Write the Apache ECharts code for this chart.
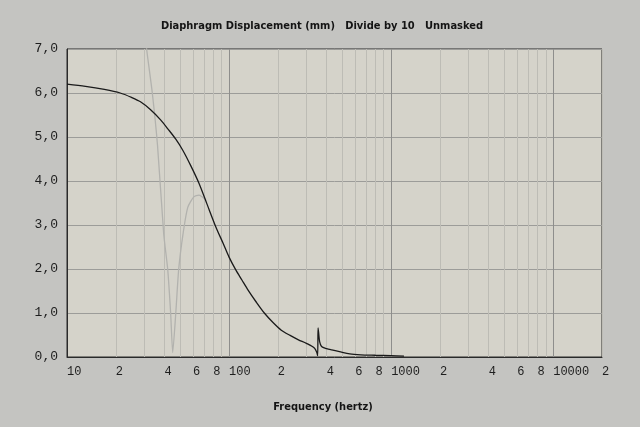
<!DOCTYPE html>
<html>
<head>
<meta charset="utf-8">
<script src="https://cdn.jsdelivr.net/npm/echarts@6/dist/echarts.min.js"></script>
<style>
html,body{margin:0;padding:0;background:#c4c4c1;}
#chart{width:640px;height:427px;}
</style>
</head>
<body>
<div id="chart"></div>
<script>
// Frequency (Hz) / displacement (mm) pairs
const blackFreq = [10,13,17,21.3,25,28.4,32.8,37.8,42,46.9,51.8,58,65.2,73,83,92,100,110,120,131,147,165,186,210,238,268,300,337,348,352,354,357,362,372,400,430,480,556,650,800,1000,1200];
const blackVal  = [6.20,6.15,6.08,6.00,5.90,5.80,5.62,5.39,5.18,4.95,4.70,4.35,3.95,3.48,2.95,2.58,2.27,1.98,1.75,1.52,1.25,1.00,0.79,0.61,0.49,0.39,0.31,0.20,0.10,0.03,0.66,0.55,0.35,0.24,0.19,0.16,0.12,0.07,0.05,0.04,0.03,0.02];
const grayFreq = [28,31,33.6,36.2,39.5,41.8,43.6,44.9,46.9,48.9,52,55.6,60.6,65.2,72];
const grayVal  = [8.6,7.0,6.0,4.8,2.8,2.0,1.0,0.1,1.0,2.0,2.8,3.4,3.64,3.68,3.57];

const xTickValues = [10,20,40,60,80,100,200,400,600,800,1000,2000,4000,6000,8000,10000,20000];
const xTickLabels = ['10','2','4','6','8','100','2','4','6','8','1000','2','4','6','8','10000','2'];
const xGridValues = [10,20,30,40,50,60,70,80,90,100,200,300,400,500,600,700,800,900,1000,2000,3000,4000,5000,6000,7000,8000,9000,10000,20000];
const yMin = 0, yMax = 7, yStep = 1;

const pairs = (xs, ys) => xs.map((x, i) => [x, ys[i]]);
const sansFont = "'DejaVu Sans Condensed', 'Liberation Sans', sans-serif";

const chart = echarts.init(document.getElementById('chart'), null, {renderer: 'canvas'});
chart.setOption({
  backgroundColor: '#c4c4c1',
  animation: false,
  title: [
    {
      text: 'Diaphragm Displacement (mm)   Divide by 10   Unmasked',
      left: 317, top: 16, textAlign: 'center',
      textStyle: {fontFamily: sansFont, fontSize: 11, fontWeight: 'bold', color: '#141414'}
    },
    {
      text: 'Frequency (hertz)',
      left: 318, top: 397, textAlign: 'center',
      textStyle: {fontFamily: sansFont, fontSize: 11, fontWeight: 'bold', color: '#141414'}
    }
  ],
  grid: {
    left: 67, right: 38, top: 49, bottom: 70,
    show: true, backgroundColor: '#d5d3ca', borderColor: '#2a2a2a', borderWidth: 1
  },
  xAxis: {
    type: 'log', logBase: 10, min: 10, max: 20000,
    axisLine: {show: true, lineStyle: {color: '#2a2a2a', width: 1}},
    axisTick: {show: false, customValues: xGridValues},
    axisLabel: {
      customValues: xTickValues,
      formatter: v => { const i = xTickValues.findIndex(t => Math.abs(t - v) < 1e-6 * t); return i >= 0 ? xTickLabels[i] : ''; },
      align: 'left', margin: 9,
      fontFamily: 'Liberation Mono', fontSize: 12, color: '#1e1e1e'
    },
    splitLine: {show: true, lineStyle: {color: ['#8e8e8c','#bdbcb5','#bdbcb5','#bdbcb5','#bdbcb5','#bdbcb5','#bdbcb5','#bdbcb5','#bdbcb5'], width: 1}}
  },
  yAxis: {
    type: 'value', min: yMin, max: yMax, interval: yStep,
    axisLine: {show: true, lineStyle: {color: '#2a2a2a', width: 1}},
    axisTick: {show: false},
    axisLabel: {
      formatter: v => v.toFixed(1).replace('.', ','),
      margin: 9, fontFamily: 'Liberation Mono', fontSize: 13, color: '#1e1e1e'
    },
    splitLine: {show: true, lineStyle: {color: '#9c9c99', width: 1}}
  },
  series: [
    {
      type: 'line', data: pairs(grayFreq, grayVal), showSymbol: false, symbol: 'none',
      smooth: 0.2,
      lineStyle: {color: '#b2b2ae', width: 1.3}, clip: true, z: 2
    },
    {
      type: 'line', data: pairs(blackFreq, blackVal), showSymbol: false, symbol: 'none',
      smooth: 0.3,
      lineStyle: {color: '#1a1a1a', width: 1.3}, clip: true, z: 3
    }
  ]
});
</script>
</body>
</html>
